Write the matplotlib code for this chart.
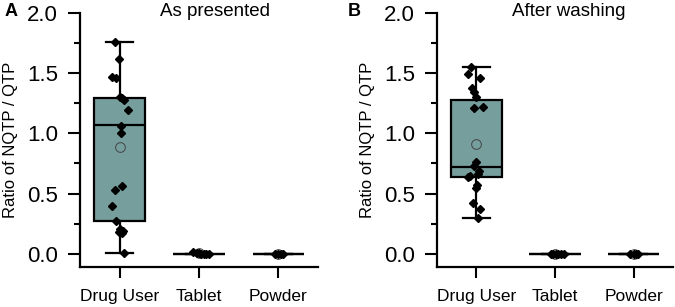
import matplotlib.pyplot as plt
from matplotlib.ticker import MultipleLocator

plt.rcParams["font.family"] = ["Liberation Sans", "DejaVu Sans"]

CATEGORIES = ["Drug User", "Tablet", "Powder"]
TITLES = ["As presented", "After washing"]
PANEL_LABELS = ["A", "B"]

# individual ratios
A_DRUG = [1.76, 1.62, 1.47, 1.46, 1.30, 1.29, 1.28, 1.19, 1.06, 1.00,
          0.56, 0.53, 0.40, 0.27, 0.21, 0.19, 0.18, 0.17, 0.01]
A_TABLET = [0.02, 0.01, 0.005, 0.0, 0.0, 0.0, 0.0]
A_POWDER = [0.0, 0.0, 0.0, 0.0]

B_DRUG = [1.55, 1.49, 1.46, 1.38, 1.34, 1.30, 1.21, 1.22, 0.76, 0.73,
          0.69, 0.66, 0.65, 0.64, 0.57, 0.55, 0.42, 0.37, 0.30]
B_TABLET = [0.0, 0.0, 0.0, 0.0, 0.0, 0.0]
B_POWDER = [0.0, 0.0, 0.0, 0.0]

# box summaries (Drug User, Tablet, Powder)
A_WHISLO = [0.01, 0.0, 0.0]
A_Q1 = [0.27, 0.0, 0.0]
A_MED = [1.065, 0.0, 0.0]
A_Q3 = [1.295, 0.0, 0.0]
A_WHISHI = [1.755, 0.0, 0.0]
A_MEAN = [0.885, 0.004, 0.0]

B_WHISLO = [0.30, 0.0, 0.0]
B_Q1 = [0.635, 0.0, 0.0]
B_MED = [0.72, 0.0, 0.0]
B_Q3 = [1.275, 0.0, 0.0]
B_WHISHI = [1.55, 0.0, 0.0]
B_MEAN = [0.91, 0.0, 0.0]

# horizontal jitter of the dots (layout only)
A_JITTER = [[-0.063, -0.013, -0.10, -0.05, 0.0, 0.025, 0.05, 0.10, 0.013, 0.013,
             0.025, -0.063, -0.10, -0.04, 0.0, 0.04, -0.013, 0.025, 0.05],
            [-0.07, -0.03, 0.0, 0.03, 0.06, 0.09, 0.12],
            [-0.04, 0.0, 0.03, 0.06]]
B_JITTER = [[-0.063, -0.10, 0.05, -0.05, -0.025, 0.0, -0.025, 0.09, 0.0, -0.025,
             0.04, 0.025, -0.075, -0.10, 0.013, 0.0, -0.04, 0.05, 0.025],
            [-0.05, -0.02, 0.01, 0.04, 0.08, 0.11],
            [-0.04, 0.0, 0.03, 0.06]]

BOX_COLOR = "#769e9c"

panels = [
    ([A_DRUG, A_TABLET, A_POWDER], A_JITTER,
     (A_WHISLO, A_Q1, A_MED, A_Q3, A_WHISHI, A_MEAN)),
    ([B_DRUG, B_TABLET, B_POWDER], B_JITTER,
     (B_WHISLO, B_Q1, B_MED, B_Q3, B_WHISHI, B_MEAN)),
]

fig = plt.figure(figsize=(6.75, 3.07), dpi=100)
axes_rects = [[0.1185, 0.1303, 0.3526, 0.8283],
              [0.6474, 0.1303, 0.3496, 0.8283]]
title_x = [0.567, 0.558]

for i, (groups, jitter, summary) in enumerate(panels):
    ax = fig.add_axes(axes_rects[i])
    whislo, q1, med, q3, whishi, mean = summary
    stats = []
    for j, cat in enumerate(CATEGORIES):
        stats.append({"label": cat, "whislo": whislo[j], "q1": q1[j],
                      "med": med[j], "q3": q3[j], "whishi": whishi[j],
                      "mean": mean[j], "fliers": []})

    ax.bxp(stats, positions=range(len(CATEGORIES)), widths=0.65,
           patch_artist=True, showmeans=True, showfliers=False,
           boxprops=dict(facecolor=BOX_COLOR, edgecolor="black", linewidth=1.6),
           medianprops=dict(color="black", linewidth=1.6),
           whiskerprops=dict(color="black", linewidth=1.6),
           capprops=dict(color="black", linewidth=1.6),
           capwidths=0.34,
           meanprops=dict(marker="o", markerfacecolor="none",
                          markeredgecolor="#444444", markersize=7,
                          markeredgewidth=0.7),
           zorder=2)

    for j, vals in enumerate(groups):
        xs = [j + dx for dx in jitter[j]]
        ax.plot(xs, vals, linestyle="none", marker="D", markersize=3.6,
                color="black", zorder=4)

    ax.set_xlim(-0.5, 2.5)
    ax.set_ylim(-0.108, 2.0)
    ax.yaxis.set_major_locator(MultipleLocator(0.5))
    ax.yaxis.set_minor_locator(MultipleLocator(0.25))
    ax.set_xticks(range(len(CATEGORIES)))
    ax.set_xticklabels(CATEGORIES, fontsize=12.5)
    ax.tick_params(axis="y", which="major", labelsize=16, length=9,
                   width=1.5, pad=7)
    ax.tick_params(axis="y", which="minor", length=4.5, width=1.5)
    ax.tick_params(axis="x", length=8, width=1.5, pad=8)
    for side in ["top", "right"]:
        ax.spines[side].set_visible(False)
    for side in ["left", "bottom"]:
        ax.spines[side].set_linewidth(1.6)
    ax.set_ylabel("Ratio of NQTP / QTP", fontsize=12, labelpad=6)
    ax.text(title_x[i], 0.987, TITLES[i], transform=ax.transAxes,
            ha="center", va="baseline", fontsize=13.5)

fig.text(5 / 675, 1 - 16.5 / 307, PANEL_LABELS[0], fontsize=13,
         fontweight="bold", va="baseline")
fig.text(348 / 675, 1 - 16.5 / 307, PANEL_LABELS[1], fontsize=13,
         fontweight="bold", va="baseline")

fig.savefig("out.png", dpi=100)
